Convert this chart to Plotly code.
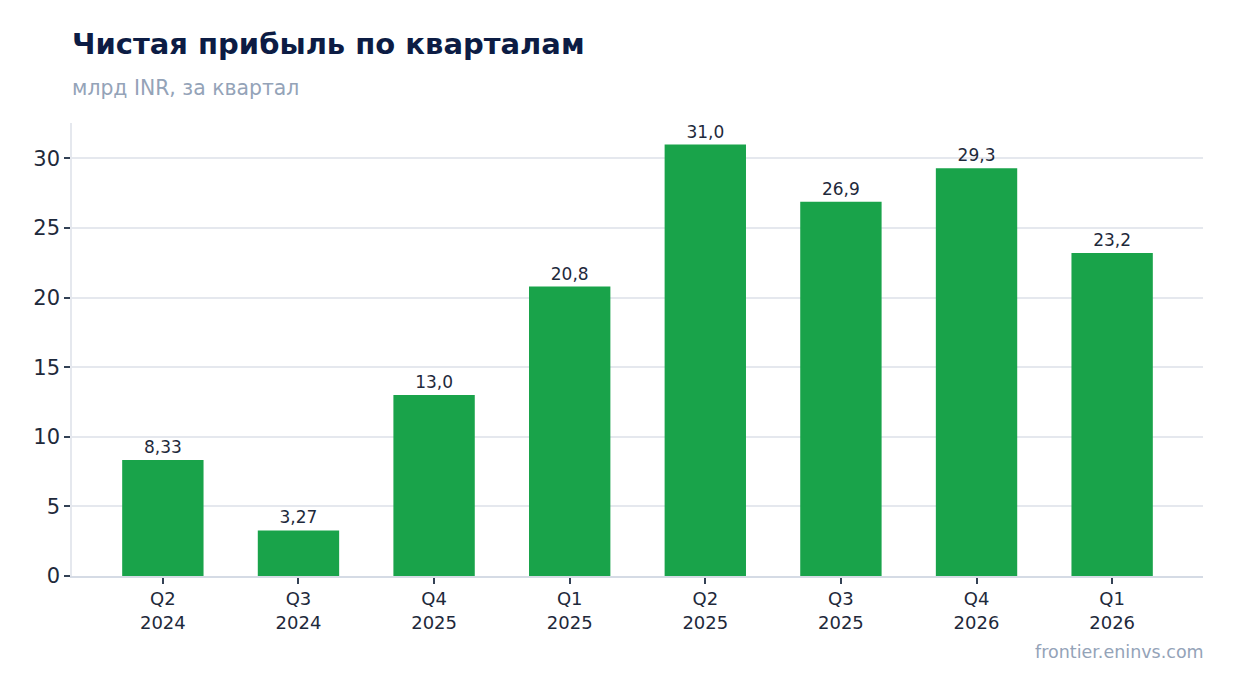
import plotly.graph_objects as go

# quarterly net profit, bn INR
quarters = ["Q2<br>2024", "Q3<br>2024", "Q4<br>2025", "Q1<br>2025",
            "Q2<br>2025", "Q3<br>2025", "Q4<br>2026", "Q1<br>2026"]
profit = [8.33, 3.27, 13.0, 20.8, 31.0, 26.9, 29.3, 23.2]


def fmt(v):
    # 3 significant digits, comma as decimal separator
    if v >= 10:
        s = f"{v:.1f}"
    else:
        s = f"{v:.2f}"
    return s.replace(".", ",")


labels = [fmt(v) for v in profit]

# page has an 8px body margin, so the plot box is placed 8px up/left
W, H = 1234, 693
L, T, R, B = 64, 115, 1195, 568

fig = go.Figure()
fig.add_trace(go.Bar(
    x=quarters, y=profit,
    width=0.6,
    marker=dict(color="#19a34a", line=dict(width=0)),
    text=labels, textposition="outside",
    textfont=dict(size=17, color="#1e293b"),
    cliponaxis=False,
))

fig.update_layout(
    width=W, height=H,
    margin=dict(l=L, r=W - R, t=T, b=H - B),
    paper_bgcolor="white", plot_bgcolor="white",
    font=dict(family="DejaVu Sans", color="#1e293b"),
    showlegend=False,
    title=dict(text="<b>Чистая прибыль по кварталам</b>",
               x=L / W, xanchor="left", xref="container",
               y=1 - 36 / H, yanchor="middle", yref="container",
               font=dict(size=29, color="#0c1c44")),
    annotations=[
        dict(text="млрд INR, за квартал", xref="paper", yref="paper",
             x=0, y=(B - 80) / (B - T), xanchor="left", yanchor="middle",
             xshift=-2,
             showarrow=False, font=dict(size=20.4, color="#94a3b8")),
        dict(text="frontier.eninvs.com", xref="paper", yref="paper",
             x=1, y=(B - 644) / (B - T), xanchor="right", yanchor="middle",
             xshift=3,
             showarrow=False, font=dict(size=17.5, color="#94a3b8")),
    ],
)
fig.update_xaxes(
    range=[-0.67, 7.67],
    showline=True, linecolor="#d5dbe5", linewidth=1.5,
    ticks="outside", ticklen=6, tickcolor="#334155", tickwidth=2,
    tickfont=dict(size=18, color="#1e293b"),
    showgrid=False,
)
fig.update_yaxes(
    range=[0, 32.55],
    dtick=5,
    showline=True, linecolor="#e5e8ee", linewidth=1.5,
    ticks="outside", ticklen=6, tickcolor="#334155", tickwidth=2,
    tickfont=dict(size=21, color="#1e293b"),
    showgrid=True, gridcolor="#e5e8ee", gridwidth=1.5,
    zeroline=False,
)

fig.write_html("out.html")
